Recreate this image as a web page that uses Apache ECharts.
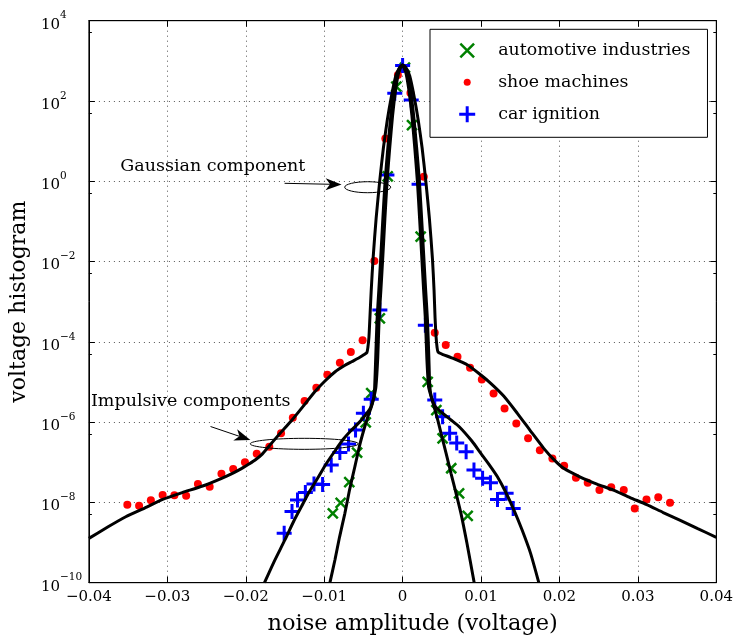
<!DOCTYPE html>
<html>
<head>
<meta charset="utf-8">
<script src="https://cdn.jsdelivr.net/npm/echarts@6/dist/echarts.min.js"></script>
<style>
  html, body { margin: 0; padding: 0; background: #fff; }
  #main { width: 736px; height: 641px; }
</style>
</head>
<body>
<div id="main"></div>
<script>
// ---- measured voltage histograms ----
const autoX = [-0.0089,-0.0079,-0.0068,-0.0058,-0.0047,-0.0040,-0.0029,-0.0019,-0.0008,0.0003,0.0012,0.0023,0.0032,0.0043,0.0051,0.0062,0.0072,0.0083];
const autoY = [5.3e-9,9.8e-9,3.2e-8,1.73e-7,9.8e-7,5.3e-6,3.85e-4,1.33,227,682,25.2,0.0416,1.01e-5,2.0e-6,3.95e-7,7.1e-8,1.68e-8,4.6e-9];

const shoeX = [-0.0351,-0.0336,-0.0321,-0.0306,-0.0291,-0.0276,-0.0261,-0.0246,-0.0231,-0.0216,-0.0201,-0.0186,-0.0170,-0.0155,-0.0140,-0.0125,-0.0110,-0.0096,-0.0080,-0.0066,-0.0051,
  -0.0036,-0.0022,-0.0006,0.0010,0.0027,
  0.0041,0.0055,0.0070,0.0086,0.0101,0.0116,0.0130,0.0145,0.0160,0.0175,0.0191,0.0206,0.0221,0.0236,0.0251,0.0266,0.0282,0.0296,0.0311,0.0326,0.0341];
const shoeY = [8.7e-9,8.3e-9,1.13e-8,1.53e-8,1.5e-8,1.47e-8,2.87e-8,2.46e-8,5.2e-8,6.8e-8,1.0e-7,1.63e-7,2.44e-7,5.3e-7,1.29e-6,3.36e-6,7.2e-6,1.52e-5,3.0e-5,5.6e-5,1.09e-4,
  0.0103,11.7,444,158,1.3,
  1.69e-4,8.3e-5,4.26e-5,2.26e-5,1.16e-5,5.2e-6,2.2e-6,9.3e-7,3.95e-7,2.0e-7,1.25e-7,8.2e-8,4.1e-8,3.1e-8,2.03e-8,2.4e-8,2.03e-8,7.1e-9,1.19e-8,1.34e-8,9.8e-9];

const carX = [-0.0151,-0.0141,-0.0134,-0.0124,-0.0113,-0.0102,-0.0091,-0.0080,-0.0069,-0.0060,-0.0050,-0.0040,
  -0.0029,-0.0020,-0.0010,0.0000,0.0011,0.0021,0.0029,
  0.0041,0.0051,0.0060,0.0069,0.0081,0.0091,0.0102,0.0112,0.0121,0.0132,0.0141];
const carY = [1.7e-9,5.9e-9,1.15e-8,1.76e-8,2.87e-8,2.8e-8,8.5e-8,1.75e-7,2.85e-7,6.4e-7,1.66e-6,3.7e-6,
  6.2e-4,1.43,155,766,106,0.84,2.6e-4,
  3.56e-6,1.36e-6,5.3e-7,3.0e-7,1.83e-7,6.4e-8,4.0e-8,3.1e-8,1.19e-8,1.68e-8,7.1e-9];

// ---- fitted model densities [x, density] ----
const shoeFit = [[-0.0400,1.27e-9],[-0.0376,2.44e-9],[-0.0353,4.40e-9],[-0.0329,7.24e-9],[-0.0306,1.19e-8],[-0.0281,1.76e-8],
  [-0.0255,2.56e-8],[-0.0230,4.05e-8],[-0.0215,5.55e-8],[-0.0205,7.06e-8],[-0.0196,9.04e-8],[-0.0188,1.14e-7],[-0.0179,1.60e-7],
  [-0.0171,2.44e-7],[-0.0157,5.05e-7],[-0.0141,1.13e-6],[-0.0126,2.59e-6],[-0.0112,5.72e-6],[-0.0099,1.06e-5],[-0.0086,1.80e-5],
  [-0.0075,2.50e-5],[-0.0065,3.20e-5],[-0.0055,4.07e-5],[-0.0049,4.83e-5],[-0.00455,5.42e-5],[-0.00442,7.43e-5],[-0.00429,1.32e-4],
  [-0.00417,3.92e-4],[-0.0040,1.95e-3],[-0.00376,0.01225],[-0.00337,0.122],[-0.00292,1.01],[-0.00245,6.74],[-0.00195,33.6],
  [-0.00144,126],[-0.00087,419],[-0.00042,663],[0,790],[0.00046,663],[0.00091,419],[0.00148,126],[0.00199,33.6],[0.00249,6.74],
  [0.00296,1.01],[0.00341,0.122],[0.0038,0.01225],[0.00401,1.95e-3],[0.00414,3.92e-4],[0.00427,1.32e-4],[0.00439,7.43e-5],
  [0.00452,5.57e-5],[0.00516,4.83e-5],[0.00617,4.07e-5],[0.00829,2.65e-5],[0.00998,1.49e-5],[0.01124,9.27e-6],[0.01289,4.47e-6],
  [0.01463,1.66e-6],[0.01632,6.0e-7],[0.0180,2.22e-7],[0.01923,1.2e-7],[0.02054,7.06e-8],[0.02266,4.29e-8],[0.02478,2.87e-8],
  [0.02688,2.03e-8],[0.0290,1.32e-8],[0.03112,8.85e-9],[0.03323,5.6e-9],[0.03534,3.64e-9],[0.03763,2.23e-9],[0.0400,1.35e-9]];

// narrow Gaussian cores of the car-ignition and automotive fits (nearly coincident)
const carCore = [[-0.00356,7.62e-6],[-0.00343,3.95e-5],[-0.00326,3.5e-4],[-0.00303,1.95e-3],[-0.00277,0.01455],[-0.00252,0.115],
  [-0.00224,0.959],[-0.00188,6.93],[-0.00149,44.8],[-0.0011,182],[-0.0007,470],[-0.00035,682],[0,790],[0.00026,682],[0.00061,470],
  [0.00101,182],[0.0014,44.8],[0.00179,6.93],[0.00215,0.959],[0.00243,0.115],[0.00269,0.01455],[0.00294,1.95e-3],[0.00317,3.5e-4],
  [0.00335,3.95e-5],[0.00347,7.62e-6]];
const autoCore = [[-0.0034,7.62e-6],[-0.00317,3.95e-5],[-0.003,3.5e-4],[-0.00277,1.95e-3],[-0.00251,0.01455],[-0.00226,0.115],
  [-0.00198,0.959],[-0.00164,6.93],[-0.00127,44.8],[-0.0009,182],[-0.00054,470],[-0.00025,682],[0,790],[0.00016,682],[0.00045,470],
  [0.00081,182],[0.00118,44.8],[0.00155,6.93],[0.00189,0.959],[0.00217,0.115],[0.00243,0.01455],[0.00268,1.95e-3],[0.00291,3.5e-4],
  [0.00309,3.95e-5],[0.00331,7.62e-6]];

const carTailLeft = [[-0.01761,1e-10],[-0.01641,3.27e-10],[-0.01501,1.16e-9],[-0.01387,3.44e-9],[-0.01286,8.13e-9],[-0.01184,1.92e-8],
  [-0.01074,4.29e-8],[-0.00968,9.57e-8],[-0.00863,1.91e-7],[-0.00765,3.58e-7],[-0.00651,6.35e-7],[-0.0055,1.0e-6],[-0.00474,1.5e-6],
  [-0.0041,2.25e-6],[-0.00368,3.98e-6]];
const carTailRight = [[0.0037,3.98e-6],[0.00414,2.52e-6],[0.0049,1.79e-6],[0.00617,1.13e-6],[0.00722,7.67e-7],[0.00883,3.38e-7],
  [0.00998,1.67e-7],[0.01099,9.04e-8],[0.01209,4.37e-8],[0.01314,1.82e-8],[0.0142,6.46e-9],[0.01524,2.05e-9],[0.01632,5.38e-10],[0.01737,1e-10]];

const autoTailLeft = [[-0.00927,1e-10],[-0.00863,3.67e-10],[-0.00804,1.37e-9],[-0.00736,5.35e-9],[-0.00677,2.03e-8],[-0.00609,7.74e-8],
  [-0.0055,2.54e-7],[-0.00483,7.67e-7],[-0.0044,1.42e-6],[-0.00398,2.42e-6],[-0.00362,4.47e-6]];
const autoTailRight = [[0.00362,4.47e-6],[0.00414,2.0e-6],[0.00452,1.06e-6],[0.0049,5.26e-7],[0.00554,1.70e-7],[0.00617,5.31e-8],
  [0.00681,1.71e-8],[0.00744,5.35e-9],[0.0082,9.73e-10],[0.00913,1e-10]];

const xTicks = { min: -0.04, max: 0.04, step: 0.01 };
const yTicks = { min: 1e-10, max: 1e4, decadeStep: 2 };

const seriesNames = ['automotive industries', 'shoe machines', 'car ignition'];

// ---- layout / style ----
const FONT = 'DejaVu Serif';
const GRID = { left: 86, top: 20.7, width: 630.7, height: 562 };

const pairs = (xs, ys) => xs.map((x, i) => [x, ys[i]]);
const carFit = carTailLeft.concat(carCore, carTailRight);
const autoFit = autoTailLeft.concat(autoCore, autoTailRight);

const CROSS = 'path://M0,0L10,10M10,0L0,10';
const PLUS = 'path://M5,0L5,10M0,5L10,5';

function xLabel(v) {
  if (Math.abs(v) < 1e-9) return '0';
  return (v < 0 ? '\u2212' : '') + Math.abs(v).toFixed(2);
}
function yLabel(v) {
  const e = Math.round(Math.log10(v));
  return '{b|10}{e|' + (e < 0 ? '\u2212' + (-e) : e) + '}';
}

const tickStyle = { show: true, inside: true, length: 6, lineStyle: { color: '#000', width: 1 } };
const gridDots = { show: true, lineStyle: { color: '#555', width: 1, type: [1, 4] } };
const frameLine = { show: true, onZero: false, lineStyle: { color: '#000', width: 1 } };

const fitLine = (data) => ({
  type: 'line', data, showSymbol: false, symbol: 'none', smooth: 0.2, z: 5,
  lineStyle: { color: '#000', width: 3 }, silent: true, legendHoverLink: false
});

const option = {
  animation: false,
  backgroundColor: '#fff',
  grid: Object.assign({ show: true, borderColor: '#000', borderWidth: 1, backgroundColor: 'transparent' }, GRID),
  legend: {
    orient: 'vertical', left: 430, top: 29.3,
    padding: [12, 17, 13.5, 27.7],
    itemWidth: 52, itemHeight: 16, itemGap: 14,
    backgroundColor: '#fff', borderColor: '#000', borderWidth: 1,
    textStyle: { fontFamily: FONT, fontSize: 17.4, color: '#000' },
    selectedMode: false,
    data: [
      { name: seriesNames[0], icon: 'path://M-1,-1L-1,-1M0,0L12,12M12,0L0,12M13,13L13,13', itemStyle: { borderWidth: 2.5, borderColor: '#008000', opacity: 1 } },
      { name: seriesNames[1], icon: 'path://M0,0L0,0M16,16L16,16M4.5,8A3.5,3.5 0 1,0 11.5,8A3.5,3.5 0 1,0 4.5,8Z', itemStyle: { borderWidth: 0, opacity: 1 } },
      { name: seriesNames[2], icon: 'path://M0,8L16,8M8,0L8,16', itemStyle: { borderWidth: 3, borderColor: '#0000ff', opacity: 1 } }
    ]
  },
  xAxis: [{
    type: 'value', min: xTicks.min, max: xTicks.max, interval: xTicks.step,
    name: 'noise amplitude (voltage)', nameLocation: 'middle', nameGap: 30,
    nameTextStyle: { fontFamily: FONT, fontSize: 22.5, color: '#000', padding: [0, 0, 0, 20] },
    axisLine: frameLine,
    axisTick: tickStyle,
    axisLabel: { formatter: xLabel, margin: 7, fontFamily: FONT, fontSize: 15, color: '#000' },
    splitLine: gridDots
  }, {
    type: 'value', position: 'top', min: xTicks.min, max: xTicks.max, interval: xTicks.step,
    axisLine: frameLine,
    axisTick: tickStyle, axisLabel: { show: false }, splitLine: { show: false }
  }],
  yAxis: [{
    type: 'log', logBase: 10, min: yTicks.min, max: yTicks.max, interval: yTicks.decadeStep,
    name: 'voltage histogram', nameLocation: 'middle', nameGap: 53,
    nameTextStyle: { fontFamily: FONT, fontSize: 22, color: '#000' },
    axisLine: frameLine,
    axisTick: tickStyle,
    minorTick: { show: true, splitNumber: 2, length: 3, lineStyle: { color: '#000', width: 1 } },
    axisLabel: {
      formatter: yLabel, margin: 48, align: 'left', color: '#000',
      rich: {
        b: { fontFamily: FONT, fontSize: 15, lineHeight: 15, padding: [8, 0, 0, 0], color: '#000' },
        e: { fontFamily: FONT, fontSize: 10.5, lineHeight: 11, padding: [1, 0, 11, 0], color: '#000' }
      }
    },
    splitLine: gridDots
  }, {
    type: 'log', logBase: 10, position: 'right', min: yTicks.min, max: yTicks.max, interval: yTicks.decadeStep,
    axisLine: frameLine,
    axisTick: tickStyle,
    minorTick: { show: true, splitNumber: 2, length: 3, lineStyle: { color: '#000', width: 1 } },
    axisLabel: { show: false }, splitLine: { show: false }
  }],
  series: [
    {
      name: seriesNames[0], type: 'scatter', data: pairs(autoX, autoY),
      symbol: CROSS, symbolSize: 10, z: 3,
      itemStyle: { color: '#008000', borderColor: '#008000', borderWidth: 2.5, opacity: 1 }
    },
    {
      name: seriesNames[1], type: 'scatter', data: pairs(shoeX, shoeY),
      symbol: 'circle', symbolSize: 8, z: 3,
      itemStyle: { color: '#ff0000', borderWidth: 0, opacity: 1 }
    },
    {
      name: seriesNames[2], type: 'scatter', data: pairs(carX, carY),
      symbol: PLUS, symbolSize: 15, z: 3,
      itemStyle: { color: '#0000ff', borderColor: '#0000ff', borderWidth: 3, opacity: 1 }
    },
    fitLine(shoeFit),
    fitLine(carFit),
    fitLine(autoFit)
  ]
};

const chart = echarts.init(document.getElementById('main'), null, { renderer: 'canvas' });
chart.setOption(option);

// ---- annotations (anchored in data coordinates) ----
const notes = [
  { text: 'Gaussian component', textAt: [-0.0242, 2.31], from: [-0.01505, 0.89], to: [-0.00778, 0.83], ring: [-0.00445, 0.711], rx: 23, ry: 5.5 },
  { text: 'Impulsive components', textAt: [-0.02702, 3.22e-6], from: [-0.02449, 7.77e-7], to: [-0.01941, 3.58e-7], ring: [-0.01254, 2.88e-7], rx: 54, ry: 5.5 }
];

function stealth(p0, p1, len, half) {
  const dx = p1[0] - p0[0], dy = p1[1] - p0[1];
  const d = Math.hypot(dx, dy);
  const ux = dx / d, uy = dy / d, nx = -uy, ny = ux;
  const bx = p1[0] - ux * len, by = p1[1] - uy * len;
  const notch = [p1[0] - ux * len * 0.72, p1[1] - uy * len * 0.72];
  return { head: [p1, [bx + nx * half, by + ny * half], notch, [bx - nx * half, by - ny * half]], notch };
}

function drawNotes() {
  const toPx = (p) => chart.convertToPixel({ xAxisIndex: 0, yAxisIndex: 0 }, p);
  const els = [];
  notes.forEach((n) => {
    const t = toPx(n.textAt), a = toPx(n.from), b = toPx(n.to), c = toPx(n.ring);
    const s = stealth(a, b, 16, 6);
    els.push({
      type: 'text', silent: true, z: 10,
      style: { text: n.text, x: t[0], y: t[1], font: '17.5px "' + FONT + '"', fill: '#000',
        textAlign: 'center', textVerticalAlign: 'middle', align: 'center', verticalAlign: 'middle' }
    });
    els.push({ type: 'line', silent: true, z: 10, shape: { x1: a[0], y1: a[1], x2: s.notch[0], y2: s.notch[1] },
      style: { stroke: '#000', lineWidth: 1 } });
    els.push({ type: 'polygon', silent: true, z: 10, shape: { points: s.head }, style: { fill: '#000' } });
    els.push({ type: 'ellipse', silent: true, z: 10, shape: { cx: c[0], cy: c[1], rx: n.rx, ry: n.ry },
      style: { fill: 'none', stroke: '#000', lineWidth: 1 } });
  });
  chart.setOption({ graphic: els });
}
drawNotes();
</script>
</body>
</html>
